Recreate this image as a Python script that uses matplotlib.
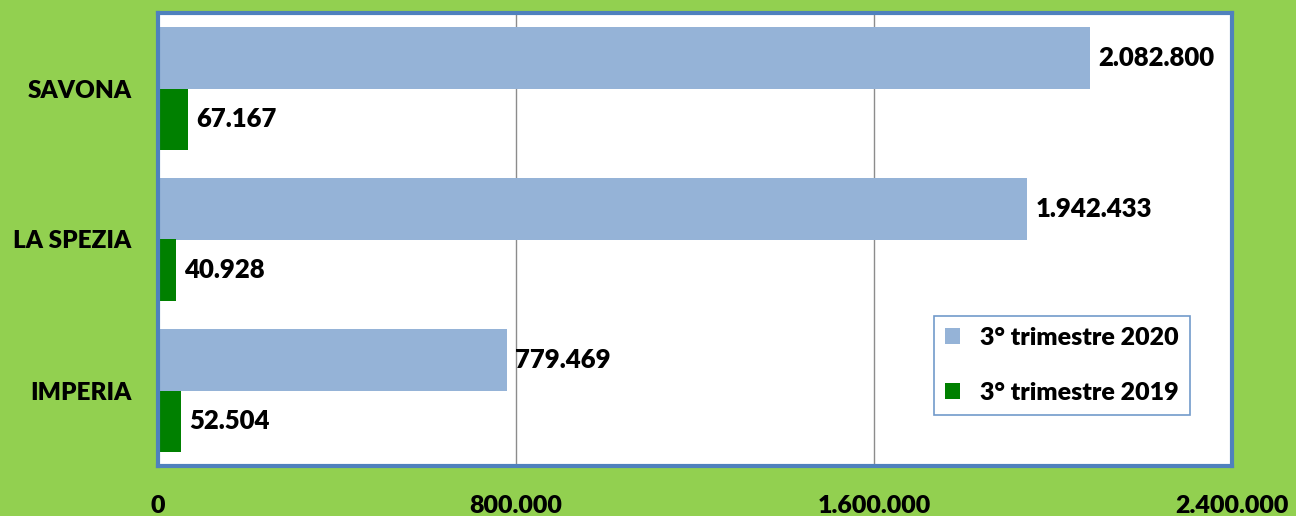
import matplotlib.pyplot as plt
import numpy as np

plt.rcParams['font.family'] = ['Lato', 'DejaVu Sans']
plt.rcParams['font.weight'] = 'heavy'

categories = ['IMPERIA', 'LA SPEZIA', 'SAVONA']
val_2020 = [779469, 1942433, 2082800]
val_2019 = [52504, 40928, 67167]
series_names = ['3° trimestre 2020', '3° trimestre 2019']
xticks = [0, 800000, 1600000, 2400000]
xtick_labels = ['0', '800.000', '1.600.000', '2.400.000']
FW = 'heavy'


def fmt(v):
    return f'{v:,}'.replace(',', '.')


fig = plt.figure(figsize=(12.96, 5.16), dpi=100)
fig.patch.set_facecolor('#92D050')
ax = fig.add_axes([158 / 1296, 50 / 516, 1074 / 1296, 453 / 516])
ax.set_facecolor('white')

y = np.arange(len(categories))
h = 0.41
b20 = ax.barh(y + h / 2, val_2020, height=h, color='#95B3D7', label=series_names[0], zorder=2)
b19 = ax.barh(y - h / 2, val_2019, height=h, color='#008000', label=series_names[1], zorder=2)

for bars, vals in ((b20, val_2020), (b19, val_2019)):
    for bar, v in zip(bars, vals):
        ax.text(v + 18000, bar.get_y() + bar.get_height() / 2, fmt(v),
                va='center', ha='left', fontsize=18.5, fontweight=FW)

ax.set_xlim(0, 2400000)
ax.set_ylim(-0.5, 2.5)
ax.set_xticks(xticks)
ax.set_xticklabels(xtick_labels, fontsize=18, fontweight=FW)
ax.set_yticks(y)
ax.set_yticklabels(categories, fontsize=17.5, fontweight=FW)
ax.tick_params(axis='both', length=0)
ax.tick_params(axis='x', pad=21)
ax.tick_params(axis='y', pad=19)
ax.grid(axis='x', color='#8C8C8C', linewidth=1, zorder=1)
ax.set_axisbelow(True)

for s in ax.spines.values():
    s.set_color('#4F81BD')
    s.set_linewidth(3)

leg = ax.legend(loc='lower right', bbox_to_anchor=(0.961, 0.113), borderaxespad=0,
                fontsize=18, frameon=True, fancybox=False, handlelength=0.6,
                handleheight=0.6, labelspacing=1.3, borderpad=0.45, handletextpad=0.8)
leg.get_frame().set_edgecolor('#4F81BD')
leg.get_frame().set_linewidth(1.2)
for t in leg.get_texts():
    t.set_fontweight(FW)

fig.savefig('out.png', dpi=100, facecolor=fig.get_facecolor())
